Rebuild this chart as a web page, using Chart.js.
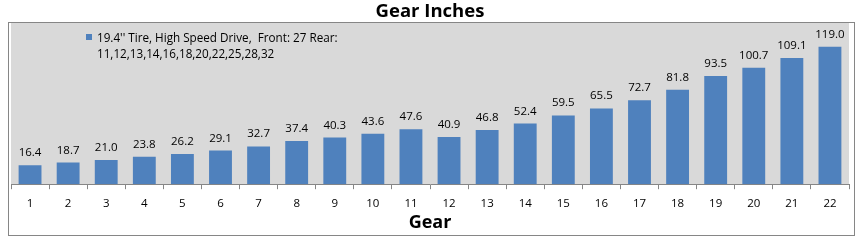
<!DOCTYPE html>
<html>
<head>
<meta charset="utf-8">
<script src="https://cdn.jsdelivr.net/npm/chart.js@4"></script>
<style>
  html,body{margin:0;padding:0;background:#fff;}
  #wrap{width:864px;height:245px;position:relative;}
</style>
</head>
<body>
<div id="wrap"><canvas id="gear-chart" width="864" height="245"></canvas></div>
<script>
const GEARS = ['1','2','3','4','5','6','7','8','9','10','11','12','13','14','15','16','17','18','19','20','21','22'];
const GEAR_INCHES = [16.4,18.7,21.0,23.8,26.2,29.1,32.7,37.4,40.3,43.6,47.6,40.9,46.8,52.4,59.5,65.5,72.7,81.8,93.5,100.7,109.1,119.0];
const SERIES_LABEL = ["19.4'' Tire, High Speed Drive,  Front: 27 Rear:", '11,12,13,14,16,18,20,22,25,28,32'];

const FONT = '"Open Sans", "Liberation Sans", sans-serif';

// grey plot background + outer frame
const frame = {
  id:'frame',
  beforeDraw(chart){
    const {ctx, chartArea:a} = chart;
    ctx.save();
    ctx.fillStyle = '#d9d9d9';
    ctx.fillRect(a.left, a.top, a.right-a.left, a.bottom-a.top);
    ctx.strokeStyle = '#868686';
    ctx.lineWidth = 1;
    ctx.strokeRect(8.5, 22.5, 846, 213);
    ctx.restore();
  }
};

// value labels above bars + legend block
const labels = {
  id:'labels',
  afterDatasetsDraw(chart){
    const {ctx} = chart;
    const meta = chart.getDatasetMeta(0);
    ctx.save();
    ctx.font = '11.5px ' + FONT;
    ctx.fillStyle = '#000';
    ctx.textAlign = 'center';
    ctx.textBaseline = 'alphabetic';
    meta.data.forEach((bar,i)=>{
      ctx.fillText(GEAR_INCHES[i].toFixed(1), bar.x, bar.y-9);
    });
    // legend
    ctx.font = '11.7px ' + FONT;
    ctx.fillStyle = '#4f81bd';
    ctx.fillRect(86, 34, 6, 6);
    ctx.fillStyle = '#000';
    ctx.textAlign = 'left';
    ctx.fillText(SERIES_LABEL[0], 97, 42);
    ctx.fillText(SERIES_LABEL[1], 97, 58);
    ctx.restore();
  }
};

new Chart(document.getElementById('gear-chart'), {
  type:'bar',
  data:{
    labels:GEARS,
    datasets:[{label:SERIES_LABEL.join(' '), data:GEAR_INCHES, backgroundColor:'#4f81bd',
      barPercentage:0.6, categoryPercentage:1}]
  },
  options:{
    responsive:false, animation:false,
    layout:{padding:{left:11, right:15, top:0, bottom:0}},
    plugins:{
      legend:{display:false},
      tooltip:{enabled:false},
      title:{display:true, text:'Gear Inches', color:'#000',
        font:{family:FONT, size:18.5, weight:'bold', lineHeight:1.1}, padding:{top:2, bottom:0}}
    },
    scales:{
      x:{
        grid:{display:true, drawOnChartArea:false, drawTicks:true, tickLength:5, color:'#868686', offset:true},
        border:{display:true, color:'#868686'},
        ticks:{color:'#000', font:{family:FONT, size:11.5}, padding:8, autoSkip:false, maxRotation:0},
        title:{display:true, text:'Gear', color:'#000', font:{family:FONT, size:18, weight:'bold', lineHeight:'8px'}, padding:{top:0, bottom:18}}
      },
      y:{display:false, min:0, max:140}
    }
  },
  plugins:[frame, labels]
});
</script>
</body>
</html>
